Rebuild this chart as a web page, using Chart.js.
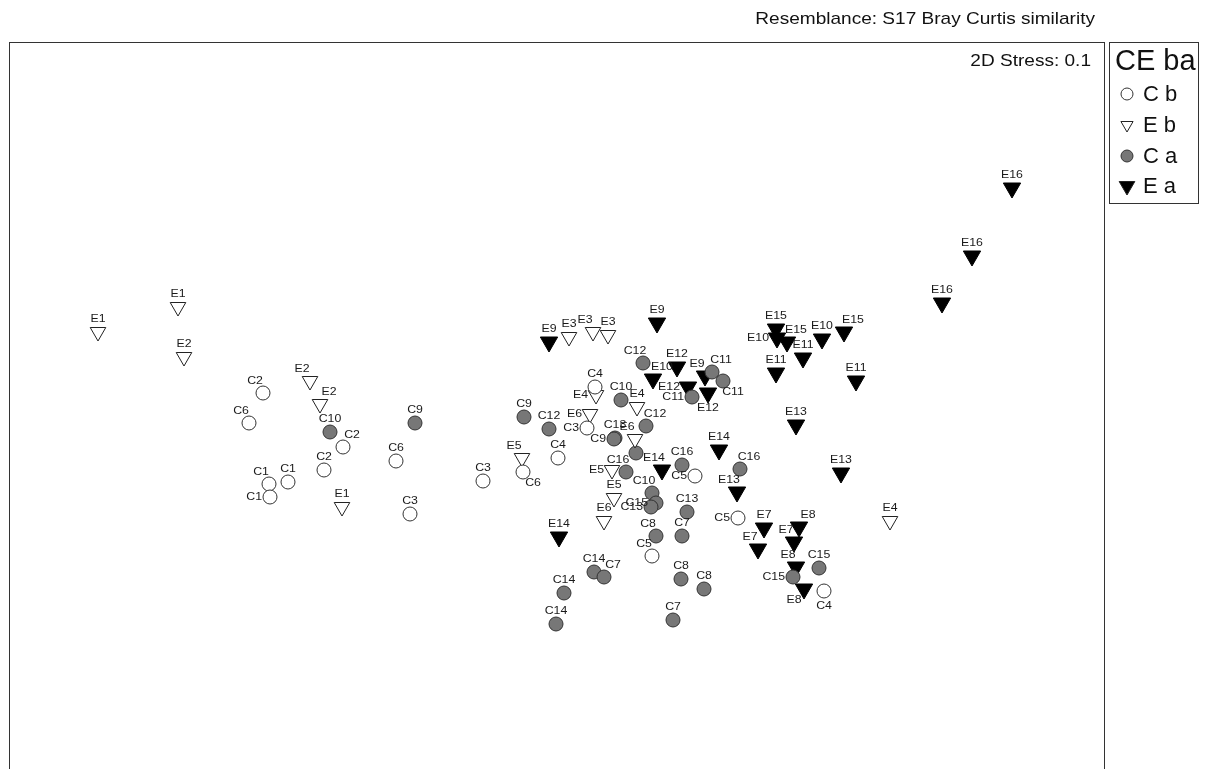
<!DOCTYPE html>
<html>
<head>
<meta charset="utf-8">
<script src="https://cdn.jsdelivr.net/npm/chart.js@4"></script>
<style>
  body { margin: 0; background: #fff; overflow: hidden; }
  #wrap { position: absolute; left: 0; top: 0; width: 1207px; height: 800px; }
</style>
</head>
<body>
<div id="wrap"><canvas id="mds" width="1207" height="800"></canvas></div>
<script>
// MDS ordination coordinates, one set of arrays per group

// C b - open circles
const cbNames = ["C2","C6","C2","C6","C2","C1","C1","C1","C3","C4","C3","C4","C6","C3","C5","C5","C5","C4"];
const cbX = [263,249,343,396,324,288,269,270,410,595,587,558,523,483,695,652,738,824];
const cbY = [393,423,447,461,470,482,484,497,514,387,428,458,472,481,476,556,518,591];

// E b - open triangles
const ebNames = ["E1","E1","E2","E2","E2","E1","E3","E3","E3","E4","E4","E6","E6","E5","E5","E5","E6","E4"];
const ebX = [178,98,184,310,320,342,569,593,608,596,637,590,635,522,612,614,604,890];
const ebY = [307,332,357,381,404,507,337,332,335,395,407,414,439,458,470,498,521,521];

// C a - grey circles
const caNames = ["C10","C9","C12","C11","C11","C11","C10","C9","C12","C12","C13","C9","C16","C16","C16","C10","C15","C13","C13","C8","C7","C14","C7","C8","C8","C14","C14","C7","C16","C15","C15"];
const caX = [330,415,643,712,723,692,621,524,549,646,615,614,636,626,682,652,656,651,687,656,682,594,604,681,704,564,556,673,740,819,793];
const caY = [432,423,363,372,381,397,400,417,429,426,438,439,453,472,465,493,503,507,512,536,536,572,577,579,589,593,624,620,469,568,577];

// E a - black triangles
const eaNames = ["E9","E9","E12","E10","E9","E12","E12","E14","E14","E13","E14","E15","E10","E15","E10","E15","E11","E11","E11","E13","E13","E7","E8","E7","E7","E8","E8","E16","E16","E16"];
const eaX = [549,657,677,653,705,688,708,662,719,737,559,776,777,787,822,844,803,776,856,796,841,764,799,794,758,796,804,1012,972,942];
const eaY = [342,323,367,379,376,387,393,470,450,492,537,329,338,342,339,332,358,373,381,425,473,528,527,542,549,567,589,188,256,303];

// where each sample label sits relative to its point
const cbSide = ["al","al","ar","a","a","a","al","l","a","a","l","a","br","a","l","al","l","b"];
const ebSide = ["a","a","a","al","ar","a","a","al","a","l","a","l","al","al","l","a","a","a"];
const caSide = ["a","a","al","ar","br","l","a","a","a","ar","a","l","n","al","a","al","l","l","a","al","a","a","ar","a","a","a","a","a","ar","a","l"];
const eaSide = ["a","a","a","ar","al","l","b","al","a","al","a","a","l","ar","a","ar","a","a","a","a","a","a","ar","al","al","al","bl","a","a","a"];

const legendTitle = "CE ba";
const groupNames = ["C b", "E b", "C a", "E a"];

function pts(xs, ys) {
    return xs.map((x, i) => ({ x: x, y: ys[i] }));
}

const FONT = "'Liberation Sans', Arial, sans-serif";
const SX = 1.12; // the original text is a little wider than Arial

function text(ctx, str, x, y, size, align) {
    ctx.save();
    ctx.translate(x, y);
    ctx.scale(SX, 1);
    ctx.font = size + "px " + FONT;
    ctx.textAlign = align || "center";
    ctx.textBaseline = "middle";
    ctx.fillText(str, 0, 0);
    ctx.restore();
}

// sample labels next to the points
const labelPlugin = {
    id: "pointLabels",
    afterDatasetsDraw(chart) {
        const ctx = chart.ctx;
        ctx.save();
        ctx.fillStyle = "#1a1a1a";
        chart.data.datasets.forEach((ds, di) => {
            const meta = chart.getDatasetMeta(di);
            meta.data.forEach((el, i) => {
                const side = ds.sides[i];
                if (side === "n") return;
                let x = el.x, y = el.y, align = "center";
                if (side === "a") { y -= ds.isTri ? 13 : 13; }
                else if (side === "al") { y -= 12; x -= 8; }
                else if (side === "ar") { y -= 12; x += 9; }
                else if (side === "l") { align = "right"; x -= 8; }
                else if (side === "b") { y += 15; }
                else if (side === "bl") { y += 11; x -= 10; }
                else if (side === "br") { y += 11; x += 10; }
                text(ctx, ds.names[i], x, y, 11, align);
            });
        });
        ctx.restore();
    }
};

// frame, header texts and the group legend
const framePlugin = {
    id: "frame",
    afterDraw(chart) {
        const ctx = chart.ctx;
        const a = chart.chartArea;
        ctx.save();
        ctx.strokeStyle = "#333";
        ctx.lineWidth = 1;
        ctx.strokeRect(a.left + 0.5, a.top + 0.5, a.right - a.left, a.bottom - a.top + 20);

        ctx.fillStyle = "#111";
        text(ctx, "Resemblance: S17 Bray Curtis similarity", 1095, 19, 17, "right");
        text(ctx, "2D Stress: 0.1", 1091, 61, 17, "right");

        // legend box
        ctx.strokeRect(1109.5, 42.5, 89, 161);
        ctx.save();
        ctx.font = "29px " + FONT;
        ctx.textAlign = "left";
        ctx.textBaseline = "middle";
        ctx.fillText(legendTitle, 1115, 62);
        ctx.restore();
        const rows = [94, 125, 156, 186];
        groupNames.forEach((g, i) => {
            const cx = 1127, cy = rows[i];
            ctx.beginPath();
            if (i === 0 || i === 2) {
                ctx.arc(cx, cy, 6, 0, Math.PI * 2);
                ctx.fillStyle = i === 0 ? "#fff" : "#777";
                ctx.fill();
                ctx.strokeStyle = "#333";
                ctx.stroke();
            } else {
                const r = i === 1 ? 7 : 9;
                ctx.moveTo(cx - r * 0.87, cy - r * 0.5);
                ctx.lineTo(cx + r * 0.87, cy - r * 0.5);
                ctx.lineTo(cx, cy + r);
                ctx.closePath();
                ctx.fillStyle = i === 1 ? "#fff" : "#000";
                ctx.fill();
                ctx.strokeStyle = "#222";
                ctx.stroke();
            }
            ctx.fillStyle = "#111";
            ctx.save();
            ctx.font = "22px " + FONT;
            ctx.textAlign = "left";
            ctx.textBaseline = "middle";
            ctx.fillText(g, 1143, cy + 1);
            ctx.restore();
        });
        ctx.restore();
    }
};

new Chart(document.getElementById("mds"), {
    type: "scatter",
    data: {
        datasets: [
            { label: "C b", data: pts(cbX, cbY), names: cbNames, sides: cbSide, isTri: false,
              pointStyle: "circle", pointRadius: 7, pointBackgroundColor: "#fff", pointBorderColor: "#333", pointBorderWidth: 1 },
            { label: "E b", data: pts(ebX, ebY), names: ebNames, sides: ebSide, isTri: true,
              pointStyle: "triangle", pointRotation: 180, pointRadius: 9, pointBackgroundColor: "#fff", pointBorderColor: "#222", pointBorderWidth: 1 },
            { label: "C a", data: pts(caX, caY), names: caNames, sides: caSide, isTri: false,
              pointStyle: "circle", pointRadius: 7, pointBackgroundColor: "#777", pointBorderColor: "#333", pointBorderWidth: 1 },
            { label: "E a", data: pts(eaX, eaY), names: eaNames, sides: eaSide, isTri: true,
              pointStyle: "triangle", pointRotation: 180, pointRadius: 10, pointBackgroundColor: "#000", pointBorderColor: "#000", pointBorderWidth: 1 }
        ]
    },
    options: {
        responsive: false,
        animation: false,
        devicePixelRatio: 1,
        layout: { autoPadding: false, padding: { left: 9, right: 103, top: 42, bottom: 0 } },
        scales: {
            x: { type: "linear", min: 9, max: 1104, display: false },
            y: { type: "linear", min: 42, max: 800, reverse: true, display: false }
        },
        plugins: {
            legend: { display: false },
            tooltip: { enabled: false }
        }
    },
    plugins: [labelPlugin, framePlugin]
});
</script>
</body>
</html>
